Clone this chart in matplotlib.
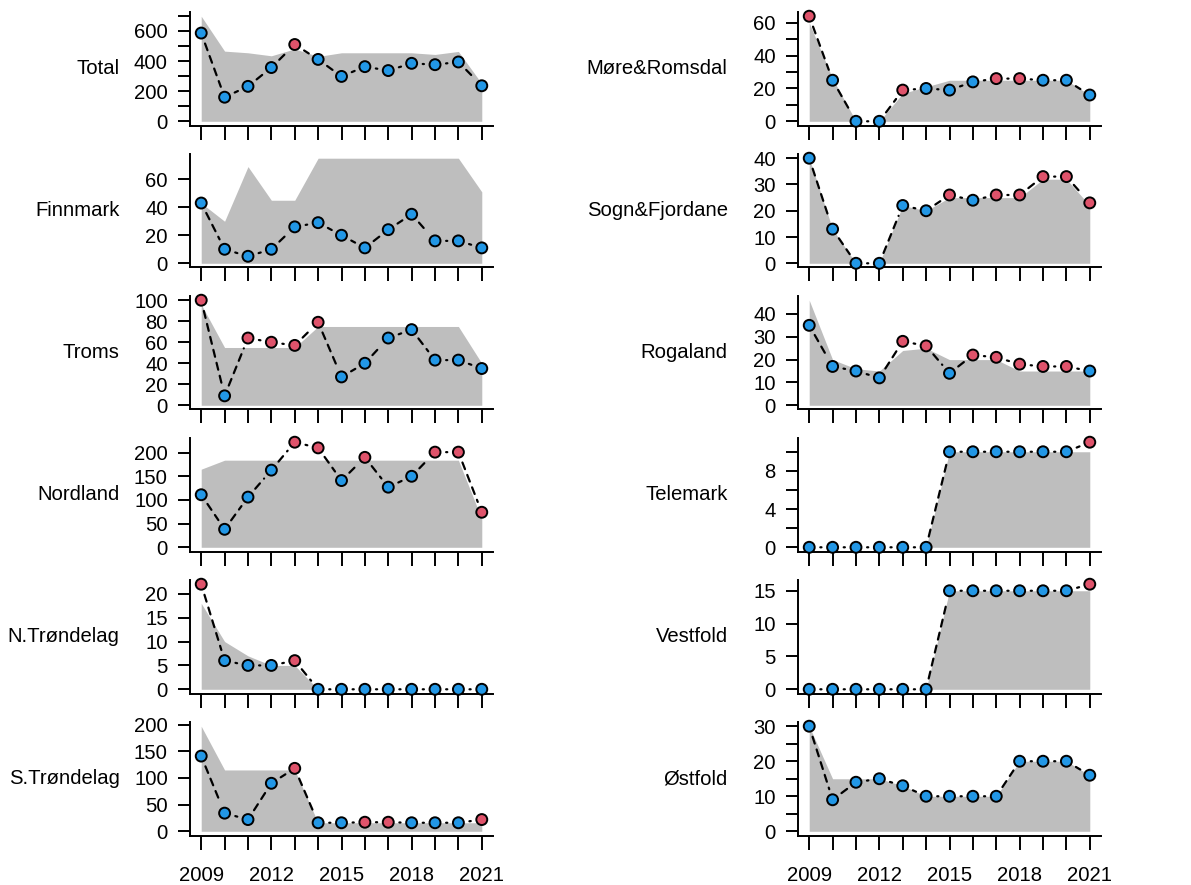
import matplotlib.pyplot as plt

plt.rcParams['font.family'] = ['Liberation Sans', 'DejaVu Sans']

years = [2009, 2010, 2011, 2012, 2013, 2014, 2015, 2016, 2017, 2018, 2019, 2020, 2021]
year_labels = [2009, 2012, 2015, 2018, 2021]

# quota (grey area) and catch (points) per region
total_quota = [698, 466, 455, 435, 481, 431, 455, 455, 455, 455, 444, 464, 250]
total_catch = [586, 160, 232, 357, 510, 411, 298, 363, 337, 385, 376, 394, 236]
finnmark_quota = [43, 30, 69, 45, 45, 75, 75, 75, 75, 75, 75, 75, 51]
finnmark_catch = [43, 10, 5, 10, 26, 29, 20, 11, 24, 35, 16, 16, 11]
troms_quota = [96, 55, 55, 55, 55, 75, 75, 75, 75, 75, 75, 75, 40]
troms_catch = [100, 9, 64, 60, 57, 79, 27, 40, 64, 72, 43, 43, 35]
nordland_quota = [165, 184, 184, 184, 184, 184, 184, 184, 184, 184, 184, 184, 60]
nordland_catch = [111, 38, 106, 163, 222, 210, 141, 190, 127, 150, 201, 201, 74]
ntrond_quota = [18, 10, 7, 5, 5, 0, 0, 0, 0, 0, 0, 0, 0]
ntrond_catch = [22, 6, 5, 5, 6, 0, 0, 0, 0, 0, 0, 0, 0]
strond_quota = [197, 115, 115, 115, 115, 16, 16, 16, 16, 16, 16, 16, 16]
strond_catch = [141, 34, 22, 90, 118, 16, 16, 17, 17, 16, 16, 16, 22]
more_quota = [60, 26, 0, 0, 17, 21, 25, 25, 25, 25, 25, 25, 16]
more_catch = [64, 25, 0, 0, 19, 20, 19, 24, 26, 26, 25, 25, 16]
sogn_quota = [40, 13, 0, 0, 22, 20, 25, 25, 25, 25, 32, 32, 22]
sogn_catch = [40, 13, 0, 0, 22, 20, 26, 24, 26, 26, 33, 33, 23]
rogaland_quota = [46, 20, 16, 15, 24, 25, 20, 20, 20, 15, 15, 15, 15]
rogaland_catch = [35, 17, 15, 12, 28, 26, 14, 22, 21, 18, 17, 17, 15]
telemark_quota = [0, 0, 0, 0, 0, 0, 10, 10, 10, 10, 10, 10, 10]
telemark_catch = [0, 0, 0, 0, 0, 0, 10, 10, 10, 10, 10, 10, 11]
vestfold_quota = [0, 0, 0, 0, 0, 0, 15, 15, 15, 15, 15, 15, 15]
vestfold_catch = [0, 0, 0, 0, 0, 0, 15, 15, 15, 15, 15, 15, 16]
ostfold_quota = [30, 15, 15, 15, 13, 10, 10, 10, 10, 20, 20, 20, 16]
ostfold_catch = [30, 9, 14, 15, 13, 10, 10, 10, 10, 20, 20, 20, 16]

# y ticks, and which of them carry a label
total_ticks = ([0, 100, 200, 300, 400, 500, 600, 700], [0, 200, 400, 600])
finnmark_ticks = ([0, 20, 40, 60], [0, 20, 40, 60])
troms_ticks = ([0, 20, 40, 60, 80, 100], [0, 20, 40, 60, 80, 100])
nordland_ticks = ([0, 50, 100, 150, 200], [0, 50, 100, 150, 200])
ntrond_ticks = ([0, 5, 10, 15, 20], [0, 5, 10, 15, 20])
strond_ticks = ([0, 50, 100, 150, 200], [0, 50, 100, 150, 200])
more_ticks = ([0, 10, 20, 30, 40, 50, 60], [0, 20, 40, 60])
sogn_ticks = ([0, 10, 20, 30, 40], [0, 10, 20, 30, 40])
rogaland_ticks = ([0, 10, 20, 30, 40], [0, 10, 20, 30, 40])
telemark_ticks = ([0, 2, 4, 6, 8, 10], [0, 4, 8])
vestfold_ticks = ([0, 5, 10, 15], [0, 5, 10, 15])
ostfold_ticks = ([0, 5, 10, 15, 20, 25, 30], [0, 10, 20, 30])

panels = [
    [("Total", total_quota, total_catch, total_ticks),
     ("Finnmark", finnmark_quota, finnmark_catch, finnmark_ticks),
     ("Troms", troms_quota, troms_catch, troms_ticks),
     ("Nordland", nordland_quota, nordland_catch, nordland_ticks),
     ("N.Trøndelag", ntrond_quota, ntrond_catch, ntrond_ticks),
     ("S.Trøndelag", strond_quota, strond_catch, strond_ticks)],
    [("Møre&Romsdal", more_quota, more_catch, more_ticks),
     ("Sogn&Fjordane", sogn_quota, sogn_catch, sogn_ticks),
     ("Rogaland", rogaland_quota, rogaland_catch, rogaland_ticks),
     ("Telemark", telemark_quota, telemark_catch, telemark_ticks),
     ("Vestfold", vestfold_quota, vestfold_catch, vestfold_ticks),
     ("Østfold", ostfold_quota, ostfold_catch, ostfold_ticks)],
]

BLUE = "#2297E6"
RED = "#DF536B"
GREY = "#BEBEBE"
FS = 14.6

W, H = 1191, 885
fig = plt.figure(figsize=(W / 100, H / 100), dpi=100)

col_left = [190, 798]
ax_w = 303
ax_h = 113.5
row_top0 = 12
row_pitch = 142

for c, column in enumerate(panels):
    for r, (name, quota, catch, (ticks, labelled)) in enumerate(column):
        top = row_top0 + r * row_pitch
        ax = fig.add_axes([col_left[c] / W, 1 - (top + ax_h) / H, ax_w / W, ax_h / H])

        ax.fill_between(years, 0, quota, color=GREY, lw=0, zorder=1)

        # R type="b": dashed segments with gaps around the points
        for i in range(len(years) - 1):
            ax.annotate("", xy=(years[i + 1], catch[i + 1]), xytext=(years[i], catch[i]),
                        arrowprops=dict(arrowstyle="-", color="black", lw=1.6,
                                        linestyle=(0, (3.2, 2.8)), shrinkA=8, shrinkB=8),
                        zorder=2)

        colors = [RED if ct > q else BLUE for ct, q in zip(catch, quota)]
        ax.scatter(years, catch, s=62, c=colors, edgecolors="black", linewidths=1.4,
                   zorder=3, clip_on=False)

        top_val = max(max(quota), max(catch))
        ax.set_ylim(-0.04 * top_val, 1.04 * top_val)
        ax.set_xlim(2009 - 0.04 * 12, 2021 + 0.04 * 12)

        ax.set_yticks(ticks)
        ax.set_yticklabels([str(t) if t in labelled else "" for t in ticks])
        ax.set_xticks(years)
        if r == len(column) - 1:
            ax.set_xticklabels([str(y) if y in year_labels else "" for y in years])
        else:
            ax.set_xticklabels([])

        for side in ("top", "right"):
            ax.spines[side].set_visible(False)
        for side in ("left", "bottom"):
            ax.spines[side].set_linewidth(1.4)
        ax.tick_params(axis="y", length=9, width=1.4, pad=7, labelsize=FS)
        ax.tick_params(axis="x", length=10, width=1.4, pad=12, labelsize=FS)

        ax.text(-0.232, 0.5, name, transform=ax.transAxes, ha="right", va="center",
                fontsize=FS)

fig.savefig("out.png", dpi=100)
